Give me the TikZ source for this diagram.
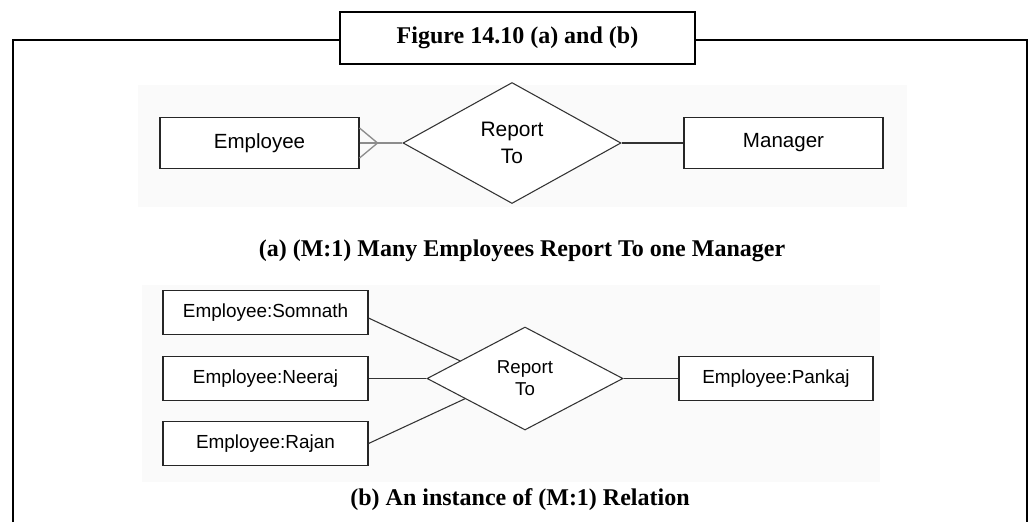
\documentclass[tikz,border=0pt]{standalone}
\usepackage{fontspec}
\setmainfont{Liberation Serif}
\newfontfamily\arial{Liberation Sans}
\usetikzlibrary{shapes.geometric,calc}
\begin{document}
\begin{tikzpicture}[x=0.75pt,y=-0.75pt,
  ent/.style={draw=black!85,line width=0.8pt,fill=white,inner sep=0pt},
  enta/.style={ent,minimum width=149.25pt,minimum height=38.5pt,font=\arial\fontsize{15.4}{18}\selectfont},
  entb/.style={ent,minimum height=32.5pt,font=\arial\fontsize{14.2}{17}\selectfont},
  rel/.style={diamond,draw=black!80,line width=0.8pt,fill=white,inner sep=0pt,align=center},
  link/.style={draw=black!80,line width=0.8pt},
  crow/.style={draw=black!45,line width=1pt},
  framestyle/.style={line width=1.8pt},
  captxt/.style={font=\bfseries\fontsize{18}{22}\selectfont}]
\useasboundingbox (0,0) rectangle (1030,522);
% faint backgrounds of the two pasted pictures
\fill[black!2] (138,85) rectangle (907,207);
\fill[black!2] (142,285) rectangle (880,482);
% outer frame and title
\draw[framestyle] (13,522) |- (340,40);
\draw[framestyle] (695,40) -| (1027,522);
\node[draw,framestyle,fill=white,minimum width=266.25pt,minimum height=39pt,inner sep=0pt,captxt] (title) at (517.5,38) {Figure 14.10 (a) and (b)};
% (a)
\node[enta] (emp) at (259.5,143) {Employee};
\node[rel,minimum width=163.5pt,minimum height=90.75pt,font=\arial\fontsize{15.7}{20}\selectfont] (ra) at (512,143) {Report\\To};
\node[enta] (mgr) at (783.5,143) {Manager};
\draw[crow] (emp.east) -- (ra.west);
\draw[crow] ($(emp.east)+(0,-15)$) -- ($(emp.east)+(18,0)$) -- ($(emp.east)+(0,15)$);
\draw[link] (ra.east) -- (mgr.west);
\node[captxt] (capa) at (522,251) {(a) (M:1) Many Employees Report To one Manager};
% (b)
\node[entb,minimum width=153.75pt] (som) at (265.5,312.5) {Employee:Somnath};
\node[entb,minimum width=153.75pt] (nee) at (265.5,378.5) {Employee:Neeraj};
\node[entb,minimum width=153.75pt] (raj) at (265.5,443.5) {Employee:Rajan};
\node[rel,minimum width=147pt,minimum height=77.25pt,font=\arial\fontsize{14}{16.5}\selectfont] (rb) at (525,378.5) {Report\\To};
\node[entb,minimum width=145.5pt,minimum height=33pt] (pk) at (776,378.5) {Employee:Pankaj};
\draw[link] ($(som.east)+(0,5.5)$) -- ($(rb.west)!0.34!(rb.north)$);
\draw[link] (nee.east) -- (rb.west);
\draw[link] (raj.east) -- ($(rb.west)!0.39!(rb.south)$);
\draw[link] (rb.east) -- (pk.west);
\node[captxt] (capb) at (520,500) {(b) An instance of (M:1) Relation};
\end{tikzpicture}
\end{document}
